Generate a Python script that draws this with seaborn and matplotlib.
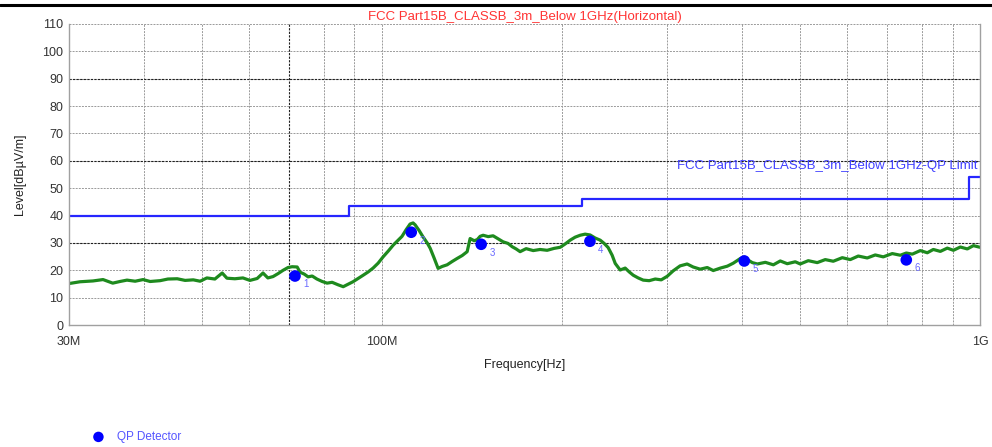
import matplotlib

matplotlib.use("Agg")
import matplotlib.pyplot as plt
import matplotlib.transforms as mtransforms
import numpy as np
import pandas as pd
import seaborn as sns
from matplotlib.lines import Line2D
from matplotlib.ticker import FixedLocator, NullFormatter

sns.set_theme(style="white")
plt.rcParams["font.family"] = ["Liberation Sans", "DejaVu Sans"]

TITLE = "FCC Part15B_CLASSB_3m_Below 1GHz(Horizontal)"
LIMIT_NAME = "FCC Part15B_CLASSB_3m_Below 1GHz-QP Limit"

trace_mhz = [
    30.1, 31.3, 32.9, 34.2, 35.5, 36.5, 37.5, 38.7, 39.9, 41.0,
    42.6, 43.9, 45.5, 46.9, 48.4, 49.7, 51.0, 52.6, 54.1, 55.1,
    56.8, 58.6, 60.2, 61.9, 63.3, 64.5, 65.8, 67.1, 68.4, 69.7,
    70.8, 72.2, 73.0, 74.2, 75.3, 76.5, 77.9, 79.5, 81.0, 82.6,
    84.5, 86.2, 87.8, 89.5, 91.3, 93.1, 94.9, 96.7, 98.6, 100.5,
    102.5, 104.5, 106.5, 108.1, 109.8, 111.5, 112.8, 113.7, 115.4, 117.2,
    119.1, 120.5, 122.3, 124.2, 126.2, 128.6, 131.1, 133.6, 136.3, 138.9,
    140.5, 142.7, 144.4, 146.0, 147.7, 150.6, 153.5, 156.5, 159.5, 162.6,
    165.2, 167.7, 170.3, 174.3, 179.1, 183.9, 189.0, 194.1, 198.7, 202.5,
    206.5, 210.5, 214.6, 218.7, 223.0, 227.3, 231.8, 235.4, 239.0, 242.7,
    245.6, 250.3, 255.2, 259.2, 263.2, 268.3, 273.5, 279.9, 286.5, 293.2,
    300.0, 307.0, 315.2, 323.9, 331.5, 340.6, 350.0, 358.2, 368.1, 378.1,
    386.9, 397.5, 403.7, 408.4, 416.3, 424.4, 437.7, 451.4, 463.6, 476.2,
    491.1, 500.6, 516.3, 534.5, 551.2, 568.5, 588.5, 606.9, 625.9, 647.9,
    668.2, 689.1, 713.4, 735.8, 753.0, 770.6, 794.7, 816.4, 835.5, 858.4,
    881.8, 902.6, 927.1, 952.4, 974.9, 1000.0,
]
trace_level = [
    15.2, 15.8, 16.1, 16.6, 15.3, 15.9, 16.4, 16.0, 16.6, 15.9,
    16.2, 16.8, 16.9, 16.3, 16.5, 16.0, 17.2, 16.8, 19.0, 17.1,
    16.9, 17.2, 16.3, 17.0, 19.0, 17.2, 17.7, 18.8, 20.0, 21.0,
    21.3, 21.2, 19.3, 18.6, 17.6, 17.9, 16.8, 15.9, 15.3, 15.6,
    14.7, 14.0, 14.9, 15.8, 17.0, 18.2, 19.4, 20.8, 22.6, 24.9,
    27.0, 29.2, 31.0, 32.4, 34.8, 36.9, 37.3, 36.6, 34.6, 32.2,
    30.0, 28.0, 24.5, 20.7, 21.4, 22.0, 23.2, 24.3, 25.4, 26.8,
    31.6, 30.8, 31.2, 32.4, 32.8, 32.3, 32.6, 31.5, 30.4, 29.8,
    28.6, 27.8, 26.8, 27.9, 27.2, 27.6, 27.3, 28.0, 28.4, 29.6,
    31.0, 32.1, 32.8, 33.2, 32.9, 31.8, 31.0, 29.8, 28.3, 25.5,
    22.5, 20.1, 20.8, 19.4, 18.2, 17.2, 16.4, 16.2, 16.8, 16.5,
    17.8, 19.8, 21.6, 22.3, 21.2, 20.4, 21.0, 19.9, 20.8, 21.5,
    22.6, 24.3, 24.8, 23.9, 22.8, 22.3, 22.9, 22.0, 23.4, 22.4,
    23.1, 22.3, 23.5, 22.8, 23.9, 23.3, 24.6, 23.9, 25.2, 24.5,
    25.6, 24.9, 26.1, 25.5, 26.3, 25.9, 27.2, 26.4, 27.6, 26.9,
    28.1, 27.3, 28.5, 27.8, 29.0, 28.4,
]

# QP limit steps (MHz, dBuV/m)
limit_mhz = [30, 88, 216, 960, 1000]
limit_level = [40, 43.5, 46, 54, 54]

# QP detector points
qp_mhz = [71.6, 112.0, 146.6, 222.8, 403.6, 753.0]
qp_level = [17.9, 33.9, 29.5, 30.6, 23.4, 23.8]
qp_ids = ["1", "2", "3", "4", "5", "6"]

trace_df = pd.DataFrame({"freq": np.array(trace_mhz) * 1e6, "level": trace_level})
limit_df = pd.DataFrame({"freq": np.array(limit_mhz) * 1e6, "level": limit_level})
qp_df = pd.DataFrame({"freq": np.array(qp_mhz) * 1e6, "level": qp_level})

fig = plt.figure(figsize=(9.92, 4.47), dpi=100)
ax = fig.add_axes([69 / 992, 1 - 325 / 447, (980 - 69) / 992, (325 - 24) / 447])
ax.set_xscale("log")

# grid: light dashed, with a few darker lines like the original software
grid_kw = dict(color="#9a9a9a", lw=0.7, ls=(0, (2, 1.2)), zorder=0)
for lv in range(10, 120, 10):
    ax.axhline(lv, **grid_kw)
minor_f = [f * 1e6 for f in (40, 50, 60, 80, 90, 100, 200, 300, 400, 500, 600, 700, 800, 900)]
for f in minor_f:
    ax.axvline(f, **grid_kw)
dark_kw = dict(color="#202020", lw=0.8, ls=(0, (2, 1.2)), zorder=0)
for lv in (30, 60, 90):
    ax.axhline(lv, **dark_kw)
ax.axvline(70e6, **dark_kw)

sns.lineplot(data=limit_df, x="freq", y="level", drawstyle="steps-post",
             color="#2626ff", lw=1.6, estimator=None, ax=ax)
sns.lineplot(data=trace_df, x="freq", y="level", color="#1e8a1e", lw=2.3,
             estimator=None, sort=False, ax=ax)
sns.scatterplot(data=qp_df, x="freq", y="level", color="#0000ff", s=70,
                edgecolor="none", zorder=5, label="QP Detector", ax=ax)

for f, lv, t in zip(qp_mhz, qp_level, qp_ids):
    ax.annotate(t, (f * 1e6, lv), xytext=(6, -6), textcoords="offset points",
                fontsize=7, color="#6a6aff", ha="left", va="center")

ax.set_xlim(30e6, 1e9)
ax.set_ylim(0, 110)
ax.xaxis.set_major_locator(FixedLocator([30e6, 100e6, 1e9]))
ax.set_xticklabels(["30M", "100M", "1G"])
ax.xaxis.set_minor_formatter(NullFormatter())
ax.set_yticks(range(0, 111, 10))
ax.tick_params(axis="both", which="both", labelsize=9, labelcolor="#333333",
               color="#9a9a9a", length=0)
ax.tick_params(axis="y", pad=4)
ax.tick_params(axis="x", pad=8)

for side in ("left", "bottom", "right"):
    ax.spines[side].set_color("#a0a0a0")
    ax.spines[side].set_linewidth(1.0)
ax.spines["top"].set_visible(False)

ax.set_xlabel("Frequency[Hz]", fontsize=9, color="#222222", labelpad=8)
ax.set_ylabel("Level[dBµV/m]", fontsize=9, color="#222222", labelpad=12)
ax.set_title(TITLE, fontsize=9.5, color="#ff3333", pad=3)

trans = mtransforms.blended_transform_factory(ax.transAxes, ax.transData)
ax.text(0.997, 58, LIMIT_NAME, transform=trans, ha="right", va="center",
        fontsize=9.5, color="#4040ff")

handles, labels = ax.get_legend_handles_labels()
ax.get_legend().remove()
fig.legend(handles, labels, loc="center left", bbox_to_anchor=(76 / 992, 1 - 437 / 447),
           frameon=False, fontsize=8.5, labelcolor="#5555ff", handletextpad=0.6,
           markerscale=0.9)

fig.add_artist(Line2D([0, 1], [1 - 5 / 447] * 2, color="black", lw=2.2))

fig.savefig("out.png", dpi=100)
